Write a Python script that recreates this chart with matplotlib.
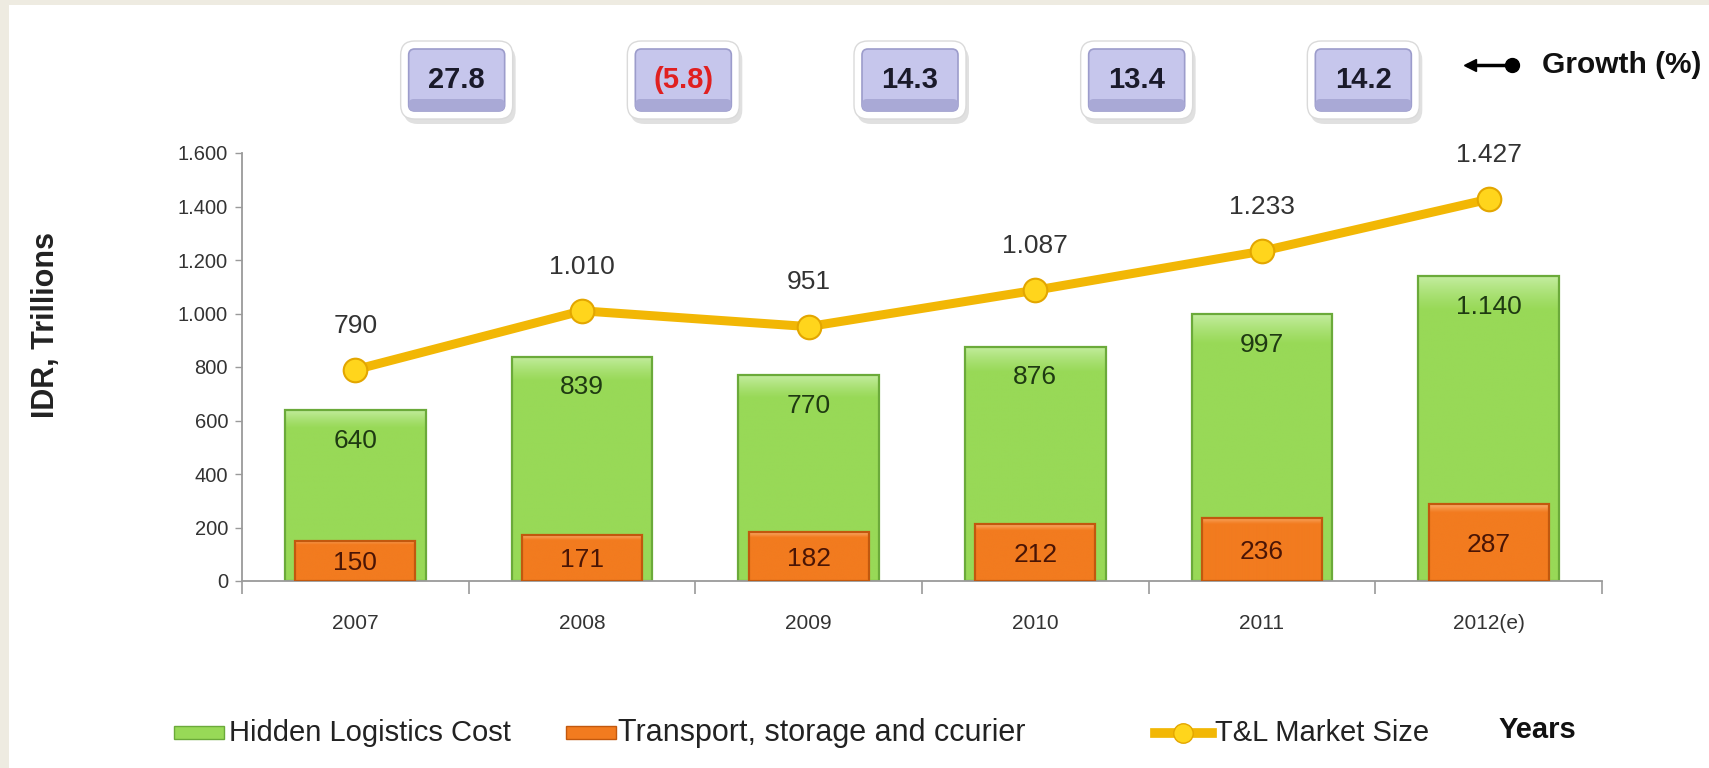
import matplotlib
matplotlib.use('Agg')
import matplotlib.pyplot as plt
import numpy as np
from matplotlib.patches import FancyBboxPatch, Rectangle
from matplotlib.lines import Line2D
from matplotlib.colors import LinearSegmentedColormap
from matplotlib.ticker import FuncFormatter, FixedLocator
from matplotlib.transforms import IdentityTransform

years = ['2007', '2008', '2009', '2010', '2011', '2012(e)']
hidden_cost = [640, 839, 770, 876, 997, 1140]
transport = [150, 171, 182, 212, 236, 287]
market_size = [790, 1010, 951, 1087, 1233, 1427]
growth = [27.8, -5.8, 14.3, 13.4, 14.2]

W, H = 1709, 768
plt.rcParams['font.family'] = ['Liberation Sans', 'DejaVu Sans']

GREEN = '#98D957'
ORANGE = '#F27B1F'
GOLD = '#F2B705'


def dots(v, pos=None):
    """thousands separator as a dot, like the source"""
    return f'{v:,.0f}'.replace(',', '.')


def shade(ax, bars, top, body):
    """fill each bar with a soft top-to-bottom gradient"""
    cmap = LinearSegmentedColormap.from_list('g', [body, body, top])
    grad = np.linspace(0, 1, 256).reshape(-1, 1) ** 6
    for b in bars:
        x0, y0 = b.get_x(), b.get_y()
        im = ax.imshow(grad, extent=(x0, x0 + b.get_width(), y0, y0 + b.get_height()),
                       origin='lower', aspect='auto', cmap=cmap, zorder=b.get_zorder() + 0.05,
                       interpolation='bilinear')
        im.set_clip_path(b)


fig = plt.figure(figsize=(W / 100, H / 100), dpi=100, facecolor='#EEEBE1')
fig.add_artist(Rectangle((9 / W, 0), 1, 1 - 5 / H, transform=fig.transFigure,
                         facecolor='white', edgecolor='none', zorder=-1))

ax = fig.add_axes([242 / W, 1 - 581 / H, (1602 - 242) / W, (581 - 153) / H])
ax.set_facecolor('none')

x = np.arange(len(years))
g_bars = ax.bar(x, hidden_cost, width=0.62, color=GREEN, linewidth=0, zorder=2)
shade(ax, g_bars, '#C4EDA0', GREEN)
ax.bar(x, hidden_cost, width=0.62, fill=False, edgecolor='#6BAA3A', linewidth=1.6, zorder=2.1)
o_bars = ax.bar(x, transport, width=0.53, color=ORANGE, linewidth=0, zorder=3)
shade(ax, o_bars, '#FAB070', ORANGE)
ax.bar(x, transport, width=0.53, fill=False, edgecolor='#C2580E', linewidth=1.6, zorder=3.1)
ax.plot(x, market_size, color=GOLD, lw=6.5, marker='o', ms=17, mfc='#FFD51C',
        mec='#E3A600', mew=1.5, zorder=4, solid_capstyle='round')

for i in x:
    ax.text(i, hidden_cost[i] - 115, dots(hidden_cost[i]), ha='center', va='center',
            fontsize=19, color='#1F3A12', zorder=5)
    ax.text(i, transport[i] / 2 - 8, dots(transport[i]), ha='center', va='center',
            fontsize=19, color='#4A1505', zorder=5)
    ax.text(i, market_size[i] + 165, dots(market_size[i]), ha='center', va='center',
            fontsize=19, color='#333333', zorder=5)

# axes look
ax.set_xlim(-0.5, len(years) - 0.5)
ax.set_ylim(0, 1600)
ax.set_yticks(np.arange(0, 1601, 200))
ax.yaxis.set_major_formatter(FuncFormatter(dots))
ax.set_xticks(x)
ax.set_xticklabels(years)
ax.xaxis.set_minor_locator(FixedLocator(np.arange(-0.5, len(years), 1.0)))
for s in ['top', 'right']:
    ax.spines[s].set_visible(False)
for s in ['left', 'bottom']:
    ax.spines[s].set_color('#9A9A9A')
    ax.spines[s].set_linewidth(1.3)
ax.tick_params(axis='x', which='major', length=0, pad=24, labelsize=15, labelcolor='#333333')
ax.tick_params(axis='x', which='minor', length=9, width=1.2, color='#9A9A9A', direction='out')
ax.tick_params(axis='y', length=5, width=1, color='#9A9A9A', pad=5, labelsize=14.5,
               labelcolor='#333333')

fig.text(46 / W, 1 - 325 / H, 'IDR, Trillions', rotation=90, ha='center', va='center',
         fontsize=22, fontweight='bold', color='#222222')

# growth boxes between the years
ident = IdentityTransform()
for j, g in enumerate(growth):
    xc = ax.transData.transform((j + 0.5, 0))[0] - 12
    yc = H - 80
    shadow = FancyBboxPatch((xc - 56 + 3, yc - 39 - 5), 112, 78,
                            boxstyle='round,pad=0,rounding_size=14',
                            facecolor='black', alpha=0.12, edgecolor='none', transform=ident)
    rim = FancyBboxPatch((xc - 56, yc - 39), 112, 78,
                         boxstyle='round,pad=0,rounding_size=14',
                         facecolor='white', edgecolor='#DADADA', linewidth=1, transform=ident)
    inner = FancyBboxPatch((xc - 48, yc - 31), 96, 62,
                           boxstyle='round,pad=0,rounding_size=6',
                           facecolor='#C6C6EC', edgecolor='#9C9CCB', linewidth=1.2, transform=ident)
    base = FancyBboxPatch((xc - 48, yc - 31), 96, 12,
                          boxstyle='round,pad=0,rounding_size=5',
                          facecolor='#A9A9D6', edgecolor='none', transform=ident)
    for p in (shadow, rim, inner, base):
        fig.add_artist(p)
    label = f'{g:.1f}' if g >= 0 else f'({-g:.1f})'
    fig.text(xc / W, yc / H, label, ha='center', va='center', fontsize=21,
             fontweight='bold', color='#1A1A2A' if g >= 0 else '#E02020')

# growth legend
fig.add_artist(Line2D([1468 / W, 1512 / W], [1 - 65 / H, 1 - 65 / H], color='black', lw=2.5,
                      transform=fig.transFigure))
fig.add_artist(Line2D([1512 / W], [1 - 65 / H], marker='o', ms=10, color='black',
                      transform=fig.transFigure))
fig.add_artist(Line2D([1470 / W], [1 - 65 / H], marker='<', ms=9, color='black',
                      transform=fig.transFigure))
fig.text(1542 / W, 1 - 65 / H, 'Growth (%)', ha='left', va='center', fontsize=21.5,
         fontweight='bold', color='#111111')

# bottom legend
ly = 1 - 733 / H
fig.add_artist(Rectangle((174 / W, ly - 6 / H), 50 / W, 13 / H, transform=fig.transFigure,
                         facecolor=GREEN, edgecolor='#6BAA3A', lw=1))
fig.text(229 / W, ly, 'Hidden Logistics Cost', ha='left', va='center', fontsize=21, color='#222222')
fig.add_artist(Rectangle((566 / W, ly - 6 / H), 50 / W, 13 / H, transform=fig.transFigure,
                         facecolor=ORANGE, edgecolor='#C2580E', lw=1))
fig.text(618 / W, ly, 'Transport, storage and ccurier', ha='left', va='center', fontsize=22,
         color='#222222')
fig.add_artist(Line2D([1155 / W, 1212 / W], [ly, ly], color=GOLD, lw=7,
                      transform=fig.transFigure))
fig.add_artist(Line2D([1183 / W], [ly], marker='o', ms=14, mfc='#FFD51C', mec='#E3A600',
                      transform=fig.transFigure))
fig.text(1215 / W, ly, 'T&L Market Size', ha='left', va='center', fontsize=21, color='#222222')
fig.text(1499 / W, 1 - 730 / H, 'Years', ha='left', va='center', fontsize=21,
         fontweight='bold', color='#111111')

fig.savefig('out.png', dpi=100, facecolor=fig.get_facecolor())
